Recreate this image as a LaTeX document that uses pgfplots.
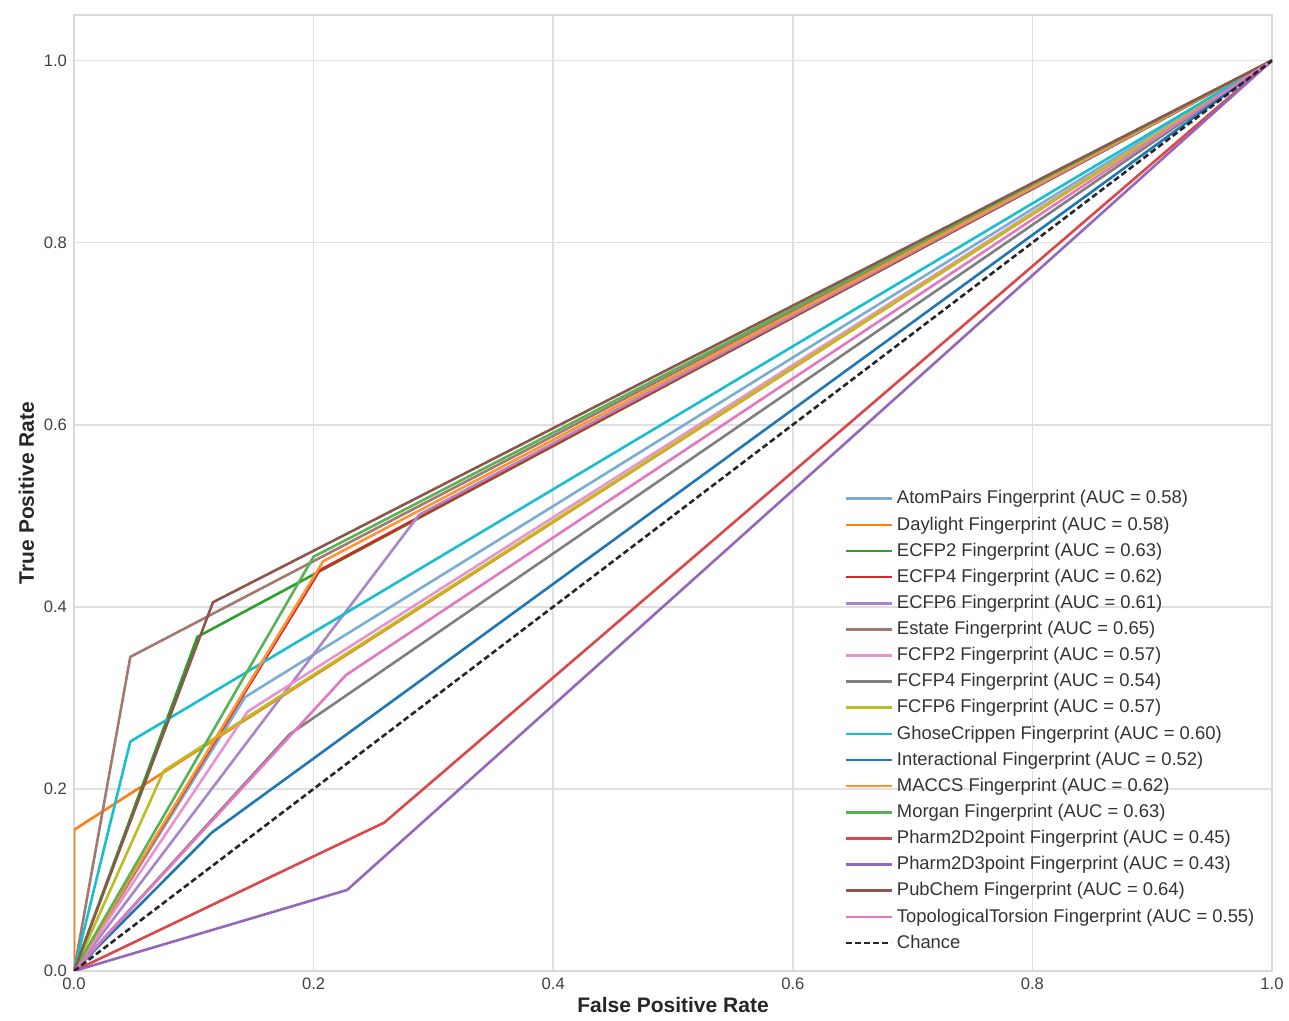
\documentclass[border=0pt]{standalone}
\usepackage{pgfplots}
\pgfplotsset{compat=1.18}
\usepackage{fontspec}
\setmainfont{Liberation Sans}
\definecolor{tabblue}{HTML}{1F77B4}
\definecolor{taborange}{HTML}{FF7F0E}
\definecolor{tabgreen}{HTML}{2CA02C}
\definecolor{tabred}{HTML}{D62728}
\definecolor{tabpurple}{HTML}{9467BD}
\definecolor{tabbrown}{HTML}{8C564B}
\definecolor{tabpink}{HTML}{E377C2}
\definecolor{tabgray}{HTML}{7F7F7F}
\definecolor{tabolive}{HTML}{BCBD22}
\definecolor{tabcyan}{HTML}{17BECF}
\begin{document}
\begin{tikzpicture}
\begin{axis}[
  name=ax,
  scale only axis,
  width=599pt, height=478pt,
  xmin=0, xmax=1, ymin=0, ymax=1.05,
  xtick={0,0.2,0.4,0.6,0.8,1.0},
  ytick={0,0.2,0.4,0.6,0.8,1.0},
  xticklabel style={/pgf/number format/.cd,fixed,fixed zerofill,precision=1},
  yticklabel style={/pgf/number format/.cd,fixed,fixed zerofill,precision=1},
  /pgf/number format/assume math mode=true,
  tick label style={font=\fontsize{8.3}{9}\selectfont, text=black!75},
  major tick length=0pt,
  grid=major,
  major grid style={draw=black!12, line width=0.8pt},
  axis line style={draw=black!15, line width=0.8pt},
  xlabel={\bfseries False Positive Rate},
  ylabel={\bfseries True Positive Rate},
  label style={font=\fontsize{10.5}{11}\selectfont, text=black!85},
  xlabel style={yshift=3pt},
  ylabel style={yshift=-2pt},
  legend style={at={(0.994,0.012)}, anchor=south east, draw=none, fill=none,
    font=\fontsize{9.2}{10}\selectfont, text=black!80, row sep=0.9pt,
    legend cell align=left},
  legend image code/.code={\draw[#1] (0pt,0pt) -- (20pt,0pt); \path (0pt,0pt) -- (23pt,0pt);},
  every axis plot/.append style={line width=1.3pt, line join=round},
]
\addplot[tabblue!60] coordinates {(0,0) (0.143,0.301) (1,1)};
\addlegendentry{AtomPairs Fingerprint (AUC = 0.58)}
\addplot[taborange] coordinates {(0,0) (0,0.155) (1,1)};
\addlegendentry{Daylight Fingerprint (AUC = 0.58)}
\addplot[tabgreen] coordinates {(0,0) (0.103,0.367) (1,1)};
\addlegendentry{ECFP2 Fingerprint (AUC = 0.63)}
\addplot[tabred] coordinates {(0,0) (0.205,0.440) (1,1)};
\addlegendentry{ECFP4 Fingerprint (AUC = 0.62)}
\addplot[tabpurple!80] coordinates {(0,0) (0.288,0.501) (1,1)};
\addlegendentry{ECFP6 Fingerprint (AUC = 0.61)}
\addplot[tabbrown!80] coordinates {(0,0) (0.047,0.345) (1,1)};
\addlegendentry{Estate Fingerprint (AUC = 0.65)}
\addplot[tabpink!80] coordinates {(0,0) (0.145,0.285) (1,1)};
\addlegendentry{FCFP2 Fingerprint (AUC = 0.57)}
\addplot[tabgray] coordinates {(0,0) (0.180,0.260) (1,1)};
\addlegendentry{FCFP4 Fingerprint (AUC = 0.54)}
\addplot[tabolive] coordinates {(0,0) (0.075,0.220) (1,1)};
\addlegendentry{FCFP6 Fingerprint (AUC = 0.57)}
\addplot[tabcyan] coordinates {(0,0) (0.047,0.252) (1,1)};
\addlegendentry{GhoseCrippen Fingerprint (AUC = 0.60)}
\addplot[tabblue] coordinates {(0,0) (0.115,0.152) (1,1)};
\addlegendentry{Interactional Fingerprint (AUC = 0.52)}
\addplot[taborange!85] coordinates {(0,0) (0.208,0.450) (1,1)};
\addlegendentry{MACCS Fingerprint (AUC = 0.62)}
\addplot[tabgreen!80] coordinates {(0,0) (0.200,0.455) (1,1)};
\addlegendentry{Morgan Fingerprint (AUC = 0.63)}
\addplot[tabred!85] coordinates {(0,0) (0.259,0.163) (1,1)};
\addlegendentry{Pharm2D2point Fingerprint (AUC = 0.45)}
\addplot[tabpurple] coordinates {(0,0) (0.228,0.089) (1,1)};
\addlegendentry{Pharm2D3point Fingerprint (AUC = 0.43)}
\addplot[tabbrown] coordinates {(0,0) (0.116,0.405) (1,1)};
\addlegendentry{PubChem Fingerprint (AUC = 0.64)}
\addplot[tabpink] coordinates {(0,0) (0.227,0.325) (1,1)};
\addlegendentry{TopologicalTorsion Fingerprint (AUC = 0.55)}
\addplot[black!85, dash pattern=on 3pt off 1.6pt] coordinates {(0,0) (1,1)};
\addlegendentry{Chance}
\end{axis}
\pgfresetboundingbox
\path ([shift={(-37pt,-25pt)}]ax.south west) rectangle ([shift={(8.5pt,7.5pt)}]ax.north east);
\end{tikzpicture}
\end{document}
